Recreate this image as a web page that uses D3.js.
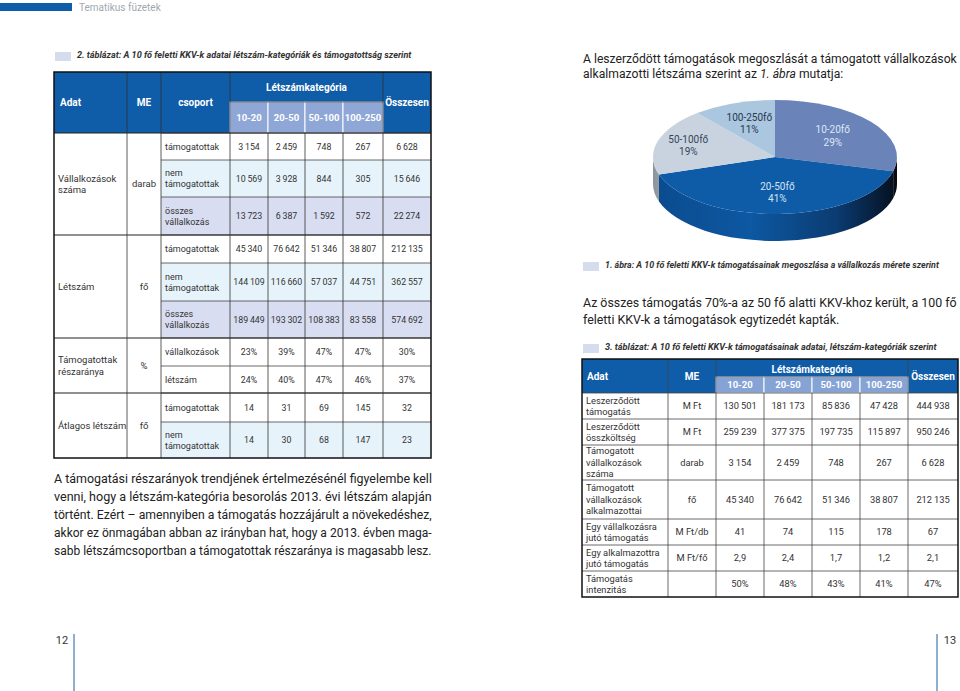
<!DOCTYPE html>
<meta charset="utf-8">
<style>
  body { margin: 0; background: #fff; }
  text { font-family: Roboto, "Noto Sans", sans-serif; }
</style>
<svg width="960" height="691"></svg>
<script src="https://cdn.jsdelivr.net/npm/d3@7"></script>
<script>
// ---- data ----
var categories = ["10-20", "20-50", "50-100", "100-250"];
var totalLabel = "Összesen";

// 2. táblázat
var vallTamogatott    = [3154, 2459, 748, 267, 6628];
var vallNemTamogatott = [10569, 3928, 844, 305, 15646];
var vallOsszes        = [13723, 6387, 1592, 572, 22274];
var letszTamogatott   = [45340, 76642, 51346, 38807, 212135];
var letszNemTamogatott= [144109, 116660, 57037, 44751, 362557];
var letszOsszes       = [189449, 193302, 108383, 83558, 574692];
var reszaranyVall     = [23, 39, 47, 47, 30];
var reszaranyLetsz    = [24, 40, 47, 46, 37];
var atlagTamogatott   = [14, 31, 69, 145, 32];
var atlagNemTamogatott= [14, 30, 68, 147, 23];

// 1. ábra
var pieLabels = ["10-20fő", "20-50fő", "50-100fő", "100-250fő"];
var pieShares = [29, 41, 19, 11];

// 3. táblázat
var leszTamogatas   = [130501, 181173, 85836, 47428, 444938];
var leszKoltseg     = [259239, 377375, 197735, 115897, 950246];
var tamVallSzama    = [3154, 2459, 748, 267, 6628];
var tamVallAlkalm   = [45340, 76642, 51346, 38807, 212135];
var egyVallTam      = [41, 74, 115, 178, 67];
var egyAlkTam       = [2.9, 2.4, 1.7, 1.2, 2.1];
var intenzitas      = [50, 48, 43, 41, 47];

// ---- helpers ----
var hu = d3.formatLocale({decimal: ",", thousands: "\u2009", grouping: [3], currency: ["", ""]});
var fInt = hu.format(",d"), fDec = hu.format(".1f");
function fPct(v) { return v + "%"; }

var svg = d3.select("svg");
svg.append("rect").attr("width", 960).attr("height", 691).attr("fill", "#fff");

var darkBlue = "#0f5ca8", subBlue = "#8fa7d6", txt = "#333";
var fills = {t: "#fff", n: "#e7f3fb", o: "#d9ddf1"};

// page header / footer
svg.append("rect").attr("x", 0).attr("y", 3).attr("width", 72).attr("height", 8).attr("fill", darkBlue);
svg.append("text").attr("x", 79).attr("y", 11).attr("font-size", 10).attr("fill", "#a0a8b0").text("Tematikus füzetek");
[{n: "12", x: 62, lx: 74}, {n: "13", x: 950, lx: 937}].forEach(function(p) {
  svg.append("text").attr("x", p.x).attr("y", 644).attr("text-anchor", "middle").attr("font-size", 11).attr("fill", txt).text(p.n);
  svg.append("line").attr("x1", p.lx).attr("x2", p.lx).attr("y1", 634).attr("y2", 691).attr("stroke", "#1d5ea5");
});

// text squeezed horizontally to a given width (condensed look of the original)
function squeezed(x, y, w, size, parts, attrs, fixedScale) {
  var g = svg.append("g");
  var t = g.append("text").attr("x", 0).attr("y", 0).attr("font-size", size);
  Object.keys(attrs || {}).forEach(function(k) { t.attr(k, attrs[k]); });
  parts.forEach(function(p) { t.append("tspan").attr("font-style", p.it ? "italic" : null).text(p.s); });
  var sx = fixedScale || Math.min(1, w / t.node().getComputedTextLength());
  g.attr("transform", "translate(" + x + "," + y + ") scale(" + sx + ",1)");
  return sx;
}
function caption(x, y, w, s) {
  svg.append("rect").attr("x", x).attr("y", y - 6).attr("width", 16).attr("height", 9).attr("fill", "#d5dcee");
  squeezed(x + 22, y, w, 9.5, [{s: s}], {"font-weight": "bold", "font-style": "italic", fill: txt});
}
function para(x, y, lh, w, lines, size) {
  var last = 1;
  lines.forEach(function(l, i) {
    var parts = l.parts || [{s: l.s}];
    last = squeezed(x, y + i * lh, w, size, parts, {fill: "#222"}, l.free ? last : null);
  });
}
function multi(g, x, yc, lines, anchor, size, color, weight) {
  var lh = size * 1.22;
  var t = g.append("text").attr("text-anchor", anchor).attr("font-size", size).attr("fill", color)
    .attr("font-weight", weight || null);
  lines.forEach(function(l, i) {
    t.append("tspan").attr("x", x).attr("y", yc + (i - (lines.length - 1) / 2) * lh).attr("dy", "0.35em").text(l);
  });
}

// ---- 2. táblázat ----
caption(55, 58, 335, "2. táblázat:  A 10 fő feletti KKV-k adatai létszám-kategóriák és támogatottság szerint");

var t2 = svg.append("g");
var c2 = [54, 127, 161, 230, 268, 305, 343, 383, 431];
var valCols = categories.concat([totalLabel]);
var x2 = d3.scaleOrdinal().domain(valCols).range(valCols.map(function(d, i) { return c2[3 + i]; }));
var w2 = d3.scaleOrdinal().domain(valCols).range(valCols.map(function(d, i) { return c2[4 + i] - c2[3 + i]; }));
var top2 = 72, sub2 = 102, head2 = 133;
var rowEdges2 = [133, 160, 197, 235, 263, 301, 338, 366, 393, 422, 458];

var groups2 = [
  {adat: ["Vállalkozások", "száma"], me: "darab", rows: [0, 1, 2]},
  {adat: ["Létszám"], me: "fő", rows: [3, 4, 5]},
  {adat: ["Támogatottak", "részaránya"], me: "%", rows: [6, 7]},
  {adat: ["Átlagos létszám"], me: "fő", rows: [8, 9]}
];
var rows2 = [
  {label: ["támogatottak"], vals: vallTamogatott, fill: "t", fmt: fInt},
  {label: ["nem", "támogatottak"], vals: vallNemTamogatott, fill: "n", fmt: fInt},
  {label: ["összes", "vállalkozás"], vals: vallOsszes, fill: "o", fmt: fInt},
  {label: ["támogatottak"], vals: letszTamogatott, fill: "t", fmt: fInt},
  {label: ["nem", "támogatottak"], vals: letszNemTamogatott, fill: "n", fmt: fInt},
  {label: ["összes", "vállalkozás"], vals: letszOsszes, fill: "o", fmt: fInt},
  {label: ["vállalkozások"], vals: reszaranyVall, fill: "t", fmt: fPct},
  {label: ["létszám"], vals: reszaranyLetsz, fill: "t", fmt: fPct},
  {label: ["támogatottak"], vals: atlagTamogatott, fill: "t", fmt: fInt},
  {label: ["nem", "támogatottak"], vals: atlagNemTamogatott, fill: "n", fmt: fInt}
];

// header
t2.append("rect").attr("x", c2[0]).attr("y", top2).attr("width", c2[8] - c2[0]).attr("height", head2 - top2).attr("fill", darkBlue);
categories.forEach(function(c) {
  t2.append("rect").attr("x", x2(c)).attr("y", sub2).attr("width", w2(c)).attr("height", head2 - sub2)
    .attr("fill", subBlue).attr("stroke", "#fff").attr("stroke-width", 1);
});
var hy2 = (top2 + head2) / 2;
t2.append("text").attr("x", 60).attr("y", hy2).attr("dy", "0.35em").attr("font-size", 10).attr("font-weight", "bold").attr("fill", "#fff").text("Adat");
t2.append("text").attr("x", (c2[1] + c2[2]) / 2).attr("y", hy2).attr("dy", "0.35em").attr("text-anchor", "middle").attr("font-size", 10).attr("font-weight", "bold").attr("fill", "#fff").text("ME");
t2.append("text").attr("x", (c2[2] + c2[3]) / 2).attr("y", hy2).attr("dy", "0.35em").attr("text-anchor", "middle").attr("font-size", 10).attr("font-weight", "bold").attr("fill", "#fff").text("csoport");
t2.append("text").attr("x", (c2[3] + c2[7]) / 2).attr("y", (top2 + sub2) / 2).attr("dy", "0.35em").attr("text-anchor", "middle").attr("font-size", 10).attr("font-weight", "bold").attr("fill", "#fff").text("Létszámkategória");
t2.append("text").attr("x", (c2[7] + c2[8]) / 2).attr("y", hy2).attr("dy", "0.35em").attr("text-anchor", "middle").attr("font-size", 10).attr("font-weight", "bold").attr("fill", "#fff").text(totalLabel);
categories.forEach(function(c) {
  t2.append("text").attr("x", x2(c) + w2(c) / 2).attr("y", (sub2 + head2) / 2).attr("dy", "0.35em").attr("text-anchor", "middle")
    .attr("font-size", 9.5).attr("font-weight", "bold").attr("fill", "#fff").text(c);
});

// body rows
rows2.forEach(function(r, i) {
  var y0 = rowEdges2[i], y1 = rowEdges2[i + 1], yc = (y0 + y1) / 2;
  t2.append("rect").attr("x", c2[2]).attr("y", y0).attr("width", c2[8] - c2[2]).attr("height", y1 - y0).attr("fill", fills[r.fill]);
  multi(t2, c2[2] + 4, yc, r.label, "start", 9, txt);
  valCols.forEach(function(c, j) {
    t2.append("text").attr("x", x2(c) + w2(c) / 2).attr("y", yc).attr("dy", "0.35em").attr("text-anchor", "middle")
      .attr("font-size", 8.8).attr("fill", txt).text(r.fmt(r.vals[j]));
  });
  t2.append("line").attr("x1", c2[2]).attr("x2", c2[8]).attr("y1", y0).attr("y2", y0).attr("stroke", "#444").attr("stroke-width", 0.8);
});
groups2.forEach(function(g) {
  var y0 = rowEdges2[g.rows[0]], y1 = rowEdges2[g.rows[g.rows.length - 1] + 1], yc = (y0 + y1) / 2;
  multi(t2, 58, yc, g.adat, "start", 9.5, txt);
  multi(t2, (c2[1] + c2[2]) / 2, yc, [g.me], "middle", 9.5, txt);
  t2.append("line").attr("x1", c2[0]).attr("x2", c2[8]).attr("y1", y0).attr("y2", y0).attr("stroke", "#222").attr("stroke-width", 1.2);
});
// vertical lines
c2.slice(1, 8).forEach(function(x, i) {
  var inner = (i >= 3 && i <= 5);
  t2.append("line").attr("x1", x).attr("x2", x).attr("y1", inner ? head2 : top2).attr("y2", rowEdges2[rowEdges2.length - 1])
    .attr("stroke", "#333").attr("stroke-width", 0.8);
});
t2.append("line").attr("x1", c2[3]).attr("x2", c2[7]).attr("y1", sub2).attr("y2", sub2).attr("stroke", "#333").attr("stroke-width", 0.8);
t2.append("rect").attr("x", c2[0]).attr("y", top2).attr("width", c2[8] - c2[0]).attr("height", rowEdges2[rowEdges2.length - 1] - top2)
  .attr("fill", "none").attr("stroke", "#111").attr("stroke-width", 1.5);

// paragraph below table 2
para(54, 482.5, 18, 378, [
  {s: "A támogatási részarányok trendjének értelmezésénél figyelembe kell"},
  {s: "venni, hogy a létszám-kategória besorolás 2013. évi létszám alapján"},
  {s: "történt. Ezért – amennyiben a támogatás hozzájárult a növekedéshez,"},
  {s: "akkor ez önmagában abban az irányban hat, hogy a 2013. évben maga-"},
  {s: "sabb létszámcsoportban a támogatottak részaránya is magasabb lesz."}
], 13);

// ---- right page text ----
para(583, 63, 15, 374, [
  {s: "A leszerződött támogatások megoszlását a támogatott vállalkozások"},
  {parts: [{s: "alkalmazotti létszáma szerint az "}, {s: "1. ábra", it: true}, {s: " mutatja:"}], free: true}
], 13);

// ---- 1. ábra: 3D pie ----
var cx = 775, cy = 157, rx = 122, ry = 57, depth = 27;
var pie = d3.pie().sort(null).value(function(d) { return d; });
var arcs = pie(pieShares);
var topColors = ["#6a83b8", "#0e5ca8", "#c9d3df", "#abc6df"];
var labelColors = ["#dfe7f5", "#d6e3f3", "#34465c", "#26384f"];
function pt(a, k, dy) { k = k || 1; return [cx + rx * k * Math.sin(a), cy - ry * k * Math.cos(a) + (dy || 0)]; }

var defs = svg.append("defs");
var gradSpecs = [
  {id: "side0", stops: [["0%", "#1b2a40"], ["100%", "#05080f"]]},
  {id: "side1", stops: [["0%", "#0b4b8e"], ["40%", "#0d58a2"], ["75%", "#0b3c72"], ["100%", "#050f1e"]]},
  {id: "side2", stops: [["0%", "#8d949c"], ["100%", "#9aa2ab"]]},
  {id: "side3", stops: [["0%", "#7f93a8"], ["100%", "#7f93a8"]]}
];
gradSpecs.forEach(function(gs) {
  var lg = defs.append("linearGradient").attr("id", gs.id).attr("gradientUnits", "userSpaceOnUse")
    .attr("x1", cx - rx).attr("x2", cx + rx).attr("y1", 0).attr("y2", 0);
  if (gs.id === "side0") lg.attr("x1", cx + rx * 0.85).attr("x2", cx + rx);
  if (gs.id === "side2") lg.attr("x1", cx - rx).attr("x2", cx - rx * 0.9);
  gs.stops.forEach(function(s) { lg.append("stop").attr("offset", s[0]).attr("stop-color", s[1]); });
});

var gp = svg.append("g");
// sides (visible front half only)
arcs.forEach(function(d, i) {
  var s = Math.max(d.startAngle, Math.PI / 2), e = Math.min(d.endAngle, 3 * Math.PI / 2);
  if (s >= e) return;
  var p0 = pt(s), p1 = pt(e), q1 = pt(e, 1, depth), q0 = pt(s, 1, depth);
  var large = (e - s) > Math.PI ? 1 : 0;
  gp.append("path").attr("fill", "url(#side" + i + ")")
    .attr("d", "M" + p0 + "A" + rx + "," + ry + " 0 " + large + " 1 " + p1 + "L" + q1 +
      "A" + rx + "," + ry + " 0 " + large + " 0 " + q0 + "Z");
});
// top faces
arcs.forEach(function(d, i) {
  var p0 = pt(d.startAngle), p1 = pt(d.endAngle);
  var large = (d.endAngle - d.startAngle) > Math.PI ? 1 : 0;
  gp.append("path").attr("fill", topColors[i])
    .attr("d", "M" + cx + "," + cy + "L" + p0 + "A" + rx + "," + ry + " 0 " + large + " 1 " + p1 + "Z");
});
// labels
var labelK = [0.6, 0.62, 0.74, 0.62];
arcs.forEach(function(d, i) {
  var m = (d.startAngle + d.endAngle) / 2, p = pt(m, labelK[i]);
  multi(gp, p[0], p[1], [pieLabels[i], d.data + "%"], "middle", 10, labelColors[i]);
});

caption(583, 268, 334, "1. ábra: A 10 fő feletti KKV-k támogatásainak megoszlása a vállalkozás mérete szerint");

para(583, 307, 17, 374, [
  {s: "Az összes támogatás 70%-a az 50 fő alatti KKV-khoz került, a 100 fő"},
  {s: "feletti KKV-k a támogatások egytizedét kapták.", free: true}
], 13);

caption(583, 350, 332, "3. táblázat: A 10 fő feletti KKV-k támogatásainak adatai, létszám-kategóriák szerint");

// ---- 3. táblázat ----
var t3 = svg.append("g");
var c3 = [582, 668, 716, 764, 812, 860, 908, 958];
var x3 = d3.scaleOrdinal().domain(valCols).range(valCols.map(function(d, i) { return c3[2 + i]; }));
var w3 = d3.scaleOrdinal().domain(valCols).range(valCols.map(function(d, i) { return c3[3 + i] - c3[2 + i]; }));
var top3 = 359, sub3 = 377, head3 = 393;
var rowEdges3 = [393, 419, 445, 480, 519, 545, 571, 597];
var rows3 = [
  {adat: ["Leszerződött", "támogatás"], me: "M Ft", vals: leszTamogatas, fmt: fInt},
  {adat: ["Leszerződött", "összköltség"], me: "M Ft", vals: leszKoltseg, fmt: fInt},
  {adat: ["Támogatott", "vállalkozások", "száma"], me: "darab", vals: tamVallSzama, fmt: fInt},
  {adat: ["Támogatott", "vállalkozások", "alkalmazottai"], me: "fő", vals: tamVallAlkalm, fmt: fInt},
  {adat: ["Egy vállalkozásra", "jutó támogatás"], me: "M Ft/db", vals: egyVallTam, fmt: fInt},
  {adat: ["Egy alkalmazottra", "jutó támogatás"], me: "M Ft/fő", vals: egyAlkTam, fmt: fDec},
  {adat: ["Támogatás", "intenzitás"], me: "", vals: intenzitas, fmt: fPct}
];

t3.append("rect").attr("x", c3[0]).attr("y", top3).attr("width", c3[7] - c3[0]).attr("height", head3 - top3).attr("fill", darkBlue);
categories.forEach(function(c) {
  t3.append("rect").attr("x", x3(c)).attr("y", sub3).attr("width", w3(c)).attr("height", head3 - sub3)
    .attr("fill", "#86a3d6").attr("stroke", "#fff").attr("stroke-width", 1);
  t3.append("text").attr("x", x3(c) + w3(c) / 2).attr("y", (sub3 + head3) / 2).attr("dy", "0.35em").attr("text-anchor", "middle")
    .attr("font-size", 9.5).attr("font-weight", "bold").attr("fill", "#fff").text(c);
});
var hy3 = (top3 + head3) / 2;
t3.append("text").attr("x", 587).attr("y", hy3).attr("dy", "0.35em").attr("font-size", 10).attr("font-weight", "bold").attr("fill", "#fff").text("Adat");
t3.append("text").attr("x", (c3[1] + c3[2]) / 2).attr("y", hy3).attr("dy", "0.35em").attr("text-anchor", "middle").attr("font-size", 10).attr("font-weight", "bold").attr("fill", "#fff").text("ME");
t3.append("text").attr("x", (c3[2] + c3[6]) / 2).attr("y", (top3 + sub3) / 2 + 1).attr("dy", "0.35em").attr("text-anchor", "middle").attr("font-size", 10).attr("font-weight", "bold").attr("fill", "#fff").text("Létszámkategória");
t3.append("text").attr("x", (c3[6] + c3[7]) / 2).attr("y", hy3).attr("dy", "0.35em").attr("text-anchor", "middle").attr("font-size", 10).attr("font-weight", "bold").attr("fill", "#fff").text(totalLabel);

rows3.forEach(function(r, i) {
  var y0 = rowEdges3[i], y1 = rowEdges3[i + 1], yc = (y0 + y1) / 2;
  multi(t3, 586, yc, r.adat, "start", 9.3, txt);
  multi(t3, (c3[1] + c3[2]) / 2, yc, [r.me], "middle", 9.3, txt);
  valCols.forEach(function(c, j) {
    t3.append("text").attr("x", x3(c) + w3(c) / 2).attr("y", yc).attr("dy", "0.35em").attr("text-anchor", "middle")
      .attr("font-size", 9.3).attr("fill", txt).text(r.fmt(r.vals[j]));
  });
  t3.append("line").attr("x1", c3[0]).attr("x2", c3[7]).attr("y1", y0).attr("y2", y0).attr("stroke", "#444").attr("stroke-width", 0.8);
});
c3.slice(1, 7).forEach(function(x, i) {
  var inner = (i >= 2 && i <= 4);
  t3.append("line").attr("x1", x).attr("x2", x).attr("y1", inner ? head3 : top3).attr("y2", rowEdges3[rowEdges3.length - 1])
    .attr("stroke", "#444").attr("stroke-width", 0.8);
});
t3.append("line").attr("x1", c3[2]).attr("x2", c3[6]).attr("y1", sub3).attr("y2", sub3).attr("stroke", "#333").attr("stroke-width", 0.6);
t3.append("rect").attr("x", c3[0]).attr("y", top3).attr("width", c3[7] - c3[0]).attr("height", rowEdges3[rowEdges3.length - 1] - top3)
  .attr("fill", "none").attr("stroke", "#111").attr("stroke-width", 1.5);
</script>
